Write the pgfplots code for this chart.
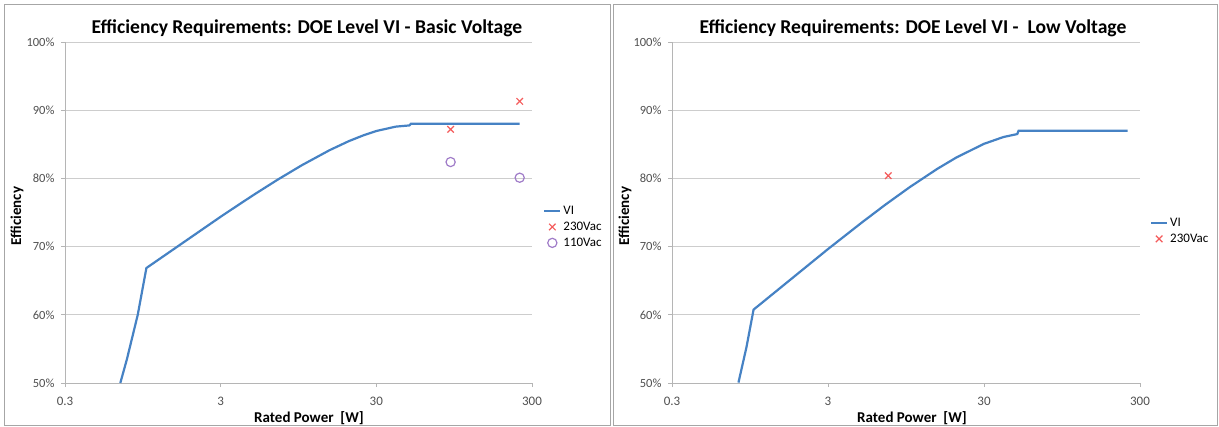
\documentclass[border=0pt]{standalone}
\usepackage{fontspec}
\setmainfont{Carlito}
\usepackage{pgfplots}
\pgfplotsset{compat=1.18}
\definecolor{lineblue}{HTML}{4682C4}
\definecolor{xred}{HTML}{F45B5B}
\definecolor{cpurple}{HTML}{A07CC8}
\definecolor{gridgray}{HTML}{CDCDCD}
\definecolor{axgray}{HTML}{B5B5B5}
\definecolor{ticktext}{HTML}{505050}
\definecolor{framegray}{HTML}{A6A6A6}
\pgfplotsset{
  linelegend/.style={legend image code/.code={\draw[##1,mark=none] (0bp,0bp)--(16bp,0bp);}},
  marklegend/.style={legend image code/.code={\draw[##1] plot coordinates {(8bp,0bp)};}},
}
\begin{document}
\begin{tikzpicture}
\path[use as bounding box] (0bp,0bp) rectangle (1219bp,427bp);
\draw[framegray, line width=1bp] (4.5bp,1.5bp) rectangle (610.5bp,422.5bp);
\draw[framegray, line width=1bp] (613.5bp,1.5bp) rectangle (1217bp,422.5bp);

% left panel
\begin{semilogxaxis}[at={(65bp,44bp)}, anchor=south west,
  scale only axis, width=467bp, height=341bp,
  xmin=0.3, xmax=300, ymin=0.5, ymax=1.0,
  xtick={0.3,3,30,300}, xticklabels={0.3,3,30,300},
  minor tick style={draw=none},
  ytick={0.5,0.6,0.7,0.8,0.9,1.0},
  yticklabels={50\%,60\%,70\%,80\%,90\%,100\%},
  axis x line*=bottom, axis y line*=left,
  ymajorgrids,
  major grid style={color=gridgray, line width=0.9bp},
  axis line style={color=axgray, line width=0.9bp},
  tick style={color=axgray, line width=0.8bp},
  tick align=outside, major tick length=4bp,
  x tick label style={font=\fontsize{13bp}{15bp}\selectfont, text=ticktext, yshift=-7bp},
  y tick label style={font=\fontsize{12.5bp}{14bp}\selectfont, text=ticktext, xshift=-3bp},
  clip=false,
  legend cell align=left,
  legend style={draw=none, fill=none, font=\fontsize{13bp}{15bp}\selectfont, anchor=north west,
     row sep=2bp, inner sep=0pt, at={(rel axis cs:1.0236,0.525)}}]
\addplot[lineblue, line width=2.2bp, linelegend] coordinates {
 (0.68,0.500) (0.75,0.535) (0.88,0.600) (1,0.6686) (3,0.7438) (4,0.7628)
 (5,0.7773) (7,0.7984) (10,0.8195) (15,0.8413) (20,0.8547) (25,0.8635)
 (30,0.8695) (40,0.8759) (49,0.8777) (50,0.880) (250,0.880)};
\addlegendentry{VI}
\addplot[only marks, mark=x, mark size=4.6bp, xred, line width=1.2bp, marklegend] coordinates {
 (90,0.872) (250,0.913)};
\addlegendentry{230Vac}
\addplot[only marks, mark=o, mark size=4.6bp, cpurple, line width=1.2bp, marklegend] coordinates {
 (90,0.824) (250,0.801)};
\addlegendentry{110Vac}
\end{semilogxaxis}

% right panel
\begin{semilogxaxis}[at={(672bp,44bp)}, anchor=south west,
  scale only axis, width=468bp, height=341bp,
  xmin=0.3, xmax=300, ymin=0.5, ymax=1.0,
  xtick={0.3,3,30,300}, xticklabels={0.3,3,30,300},
  minor tick style={draw=none},
  ytick={0.5,0.6,0.7,0.8,0.9,1.0},
  yticklabels={50\%,60\%,70\%,80\%,90\%,100\%},
  axis x line*=bottom, axis y line*=left,
  ymajorgrids,
  major grid style={color=gridgray, line width=0.9bp},
  axis line style={color=axgray, line width=0.9bp},
  tick style={color=axgray, line width=0.8bp},
  tick align=outside, major tick length=4bp,
  x tick label style={font=\fontsize{13bp}{15bp}\selectfont, text=ticktext, yshift=-7bp},
  y tick label style={font=\fontsize{12.5bp}{14bp}\selectfont, text=ticktext, xshift=-3bp},
  clip=false,
  legend cell align=left,
  legend style={draw=none, fill=none, font=\fontsize{13bp}{15bp}\selectfont, anchor=north west,
     row sep=2bp, inner sep=0pt, at={(rel axis cs:1.021,0.49)}}]
\addplot[lineblue, line width=2.2bp, linelegend] coordinates {
 (0.8,0.5006) (0.9,0.5523) (1,0.6076) (3,0.6964) (5,0.7362) (7,0.7615)
 (10,0.7870) (15,0.8138) (20,0.8308) (30,0.8507) (40,0.8607) (49,0.8650)
 (50,0.870) (250,0.870)};
\addlegendentry{VI}
\addplot[only marks, mark=x, mark size=4.6bp, xred, line width=1.2bp, marklegend] coordinates {
 (7.3,0.804)};
\addlegendentry{230Vac}
\end{semilogxaxis}

% titles and labels
\node[font=\bfseries\fontsize{19.6bp}{22bp}\selectfont, anchor=base] at (307bp,393bp) {Efficiency Requirements: DOE Level VI - Basic Voltage};
\node[font=\bfseries\fontsize{19.6bp}{22bp}\selectfont, anchor=base] at (913bp,393bp) {Efficiency Requirements: DOE Level VI -\ \ Low Voltage};
\node[font=\bfseries\fontsize{15bp}{17bp}\selectfont, anchor=base] at (309bp,5bp) {Rated Power\ \ [W]};
\node[font=\bfseries\fontsize{15bp}{17bp}\selectfont, anchor=base] at (912bp,5bp) {Rated Power\ \ [W]};
\node[font=\bfseries\fontsize{15bp}{17bp}\selectfont, rotate=90] at (17bp,211bp) {Efficiency};
\node[font=\bfseries\fontsize{15bp}{17bp}\selectfont, rotate=90] at (625bp,211bp) {Efficiency};
\end{tikzpicture}
\end{document}
